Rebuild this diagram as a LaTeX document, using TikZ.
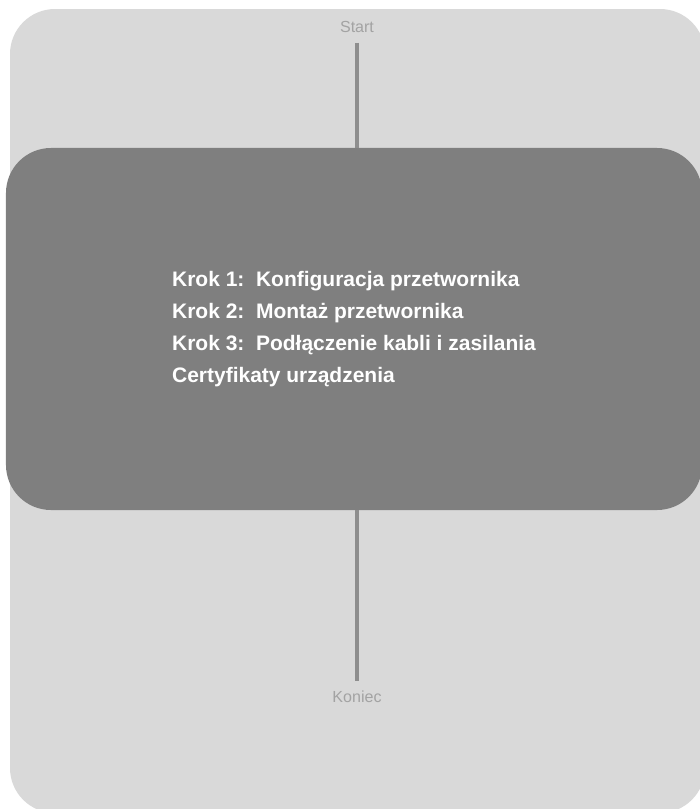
\documentclass[tikz,border=0pt]{standalone}
\usepackage{fontspec}
\setmainfont{Liberation Sans}
\definecolor{panelgray}{HTML}{D9D9D9}
\definecolor{boxgray}{HTML}{7F7F7F}
\definecolor{linkgray}{HTML}{8E8E8E}
\definecolor{labelgray}{HTML}{A3A3A3}
\begin{document}
\begin{tikzpicture}[x = 0.03cm, y = -0.03cm,
        endlabel/.style = {text = labelgray, font = \fontsize{13.7pt}{16pt}\selectfont,
            inner xsep = 0pt, inner ysep = 0.3cm},
        stepbox/.style = {fill = boxgray, rounded corners = 1.35cm, text = white,
            minimum width = 20.88cm, minimum height = 10.86cm, align = left,
            font = \fontsize{17.9pt}{27.3pt}\selectfont\bfseries},
        link/.style = {draw = linkgray, line width = 2.6pt}]
            % \draw[style = help lines] (0,0) grid[step = 50] (700,809);
            \useasboundingbox (0,0) rectangle (700,809);

            \fill[panelgray, rounded corners = 1.35cm] (10,9) rectangle (705,813);

            \node[endlabel] (start) at (357,27) {Start};
            \node[stepbox] (steps) at (354,329) {Krok 1:\ \ Konfiguracja przetwornika\\
                Krok 2:\ \ Montaż przetwornika\\
                Krok 3:\ \ Podłączenie kabli i zasilania\\
                Certyfikaty urządzenia};
            \node[endlabel] (end) at (357,697) {Koniec};

            \draw[link] (start.south) -- (start.south |- steps.north);
            \draw[link] (end.north |- steps.south) -- (end.north);
        \end{tikzpicture}
\end{document}
